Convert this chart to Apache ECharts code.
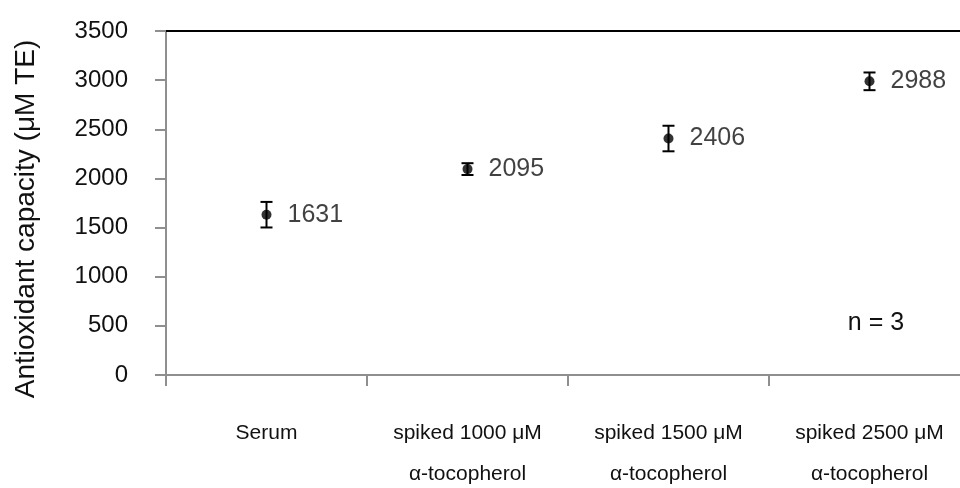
<!DOCTYPE html>
<html>
<head>
<meta charset="utf-8">
<script src="https://cdn.jsdelivr.net/npm/echarts@6/dist/echarts.min.js"></script>
<style>
  html, body { margin: 0; padding: 0; background: #fff; }
  #chart { width: 960px; height: 488px; }
</style>
</head>
<body>
<div id="chart"></div>
<script>
// Sample groups and measured antioxidant capacity (mean ± SD, µM TE)
const categories = [
  'Serum',
  'spiked 1000 \u03bcM\n\u03b1-tocopherol',
  'spiked 1500 \u03bcM\n\u03b1-tocopherol',
  'spiked 2500 \u03bcM\n\u03b1-tocopherol'
];
const means = [1631, 2095, 2406, 2988];
const errors = [130, 60, 130, 90];
const yTicks = { min: 0, max: 3500, interval: 500 };

const FONT = '"Liberation Sans", Arial, sans-serif';
const TEXT = '#111';
const AXIS = '#8f8f8f';

const chart = echarts.init(document.getElementById('chart'), null, { renderer: 'canvas' });

const errorData = categories.map((c, i) => [i, means[i] - errors[i], means[i] + errors[i]]);

chart.setOption({
  animation: false,
  backgroundColor: '#fff',
  textStyle: { fontFamily: FONT },
  grid: {
    left: 166, top: 31, width: 804, height: 344,
    containLabel: false, outerBoundsMode: 'none'
  },
  xAxis: [
    {
      type: 'category',
      data: categories,
      boundaryGap: true,
      axisLine: { lineStyle: { color: AXIS, width: 2 } },
      axisTick: { show: true, length: 11, inside: false, lineStyle: { color: AXIS, width: 2 } },
      axisLabel: {
        color: TEXT, fontSize: 21, fontFamily: FONT,
        margin: 38, lineHeight: 41, interval: 0
      },
      splitLine: { show: false }
    },
    {
      type: 'category',
      position: 'top',
      data: categories,
      axisLine: { lineStyle: { color: '#000', width: 2 } },
      axisTick: { show: false },
      axisLabel: { show: false },
      splitLine: { show: false }
    }
  ],
  yAxis: {
    type: 'value',
    min: yTicks.min,
    max: yTicks.max,
    interval: yTicks.interval,
    axisLine: { show: true, lineStyle: { color: AXIS, width: 2 } },
    axisTick: { show: true, length: 11, inside: false, lineStyle: { color: AXIS, width: 2 } },
    axisLabel: {
      color: TEXT, fontSize: 24, fontFamily: FONT, margin: 38,
      formatter: v => String(v)
    },
    splitLine: { show: false }
  },
  graphic: [
    {
      type: 'text',
      x: 26, y: 219,
      rotation: Math.PI / 2,
      style: {
        text: 'Antioxidant capacity (\u03bcM TE)',
        fontSize: 28, fontFamily: FONT, fill: TEXT,
        align: 'center', verticalAlign: 'middle'
      }
    },
    {
      type: 'text',
      x: 876, y: 323,
      style: {
        text: 'n = 3',
        fontSize: 25, fontFamily: FONT, fill: TEXT,
        align: 'center', verticalAlign: 'middle'
      }
    }
  ],
  series: [
    {
      type: 'custom',
      name: 'SD',
      data: errorData,
      z: 3,
      renderItem: function (params, api) {
        const x = api.value(0);
        const lo = api.coord([x, api.value(1)]);
        const hi = api.coord([x, api.value(2)]);
        const hw = 6;
        const st = { stroke: '#000', lineWidth: 2 };
        return {
          type: 'group',
          children: [
            { type: 'line', shape: { x1: lo[0], y1: lo[1], x2: hi[0], y2: hi[1] }, style: st },
            { type: 'line', shape: { x1: lo[0] - hw, y1: lo[1], x2: lo[0] + hw, y2: lo[1] }, style: st },
            { type: 'line', shape: { x1: hi[0] - hw, y1: hi[1], x2: hi[0] + hw, y2: hi[1] }, style: st }
          ]
        };
      }
    },
    {
      type: 'scatter',
      name: 'Mean',
      data: means,
      symbol: 'circle',
      symbolSize: 10,
      z: 4,
      itemStyle: { color: '#000' },
      label: {
        show: true,
        position: 'right',
        distance: 16,
        color: TEXT,
        fontSize: 25,
        fontFamily: FONT,
        formatter: p => String(p.value)
      }
    }
  ]
});
</script>
</body>
</html>
